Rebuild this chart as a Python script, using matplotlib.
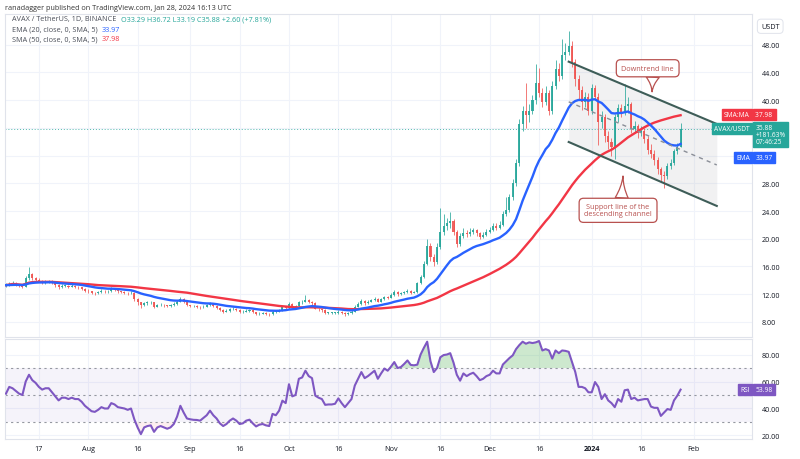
"""AVAX/USDT daily chart with EMA20, SMA50, descending channel and RSI pane."""
import matplotlib

matplotlib.use("Agg")
import matplotlib.pyplot as plt  # noqa: E402
import matplotlib.transforms as mtrans  # noqa: E402
import pandas as pd  # noqa: E402

plt.rcParams["font.family"] = ["Open Sans", "DejaVu Sans"]

START = "2023-07-07"
FIRST_OPEN = 13.2

closes = [
    13.3, 13.5, 13.6, 13.4, 13.2, 13.1, 14.3, 14.9, 14.3, 14.1,
    13.9, 13.7, 13.8, 13.9, 13.6, 13.3, 13.0, 13.2, 13.2, 13.1,
    13.2, 13.1, 13.0, 12.8, 12.5, 12.4, 12.2, 12.1, 12.3, 12.5,
    12.4, 12.4, 12.8, 12.6, 12.4, 12.3, 12.2, 12.1, 12.2, 11.3,
    10.8, 10.4, 10.7, 10.8, 10.8, 10.2, 10.4, 10.5, 10.4, 10.3,
    10.4, 10.6, 10.9, 11.3, 10.9, 10.4, 10.3, 10.3, 10.2, 10.1,
    10.2, 10.4, 10.6, 10.3, 10.0, 9.7, 9.5, 9.6, 9.8, 9.9,
    9.7, 9.4, 9.5, 9.6, 9.7, 9.4, 9.1, 9.2, 9.3, 9.2,
    9.1, 9.5, 9.5, 9.7, 10.1, 10.0, 10.6, 10.2, 10.3, 10.8,
    10.9, 11.2, 10.9, 10.7, 9.9, 9.8, 9.7, 9.3, 9.3, 9.3,
    9.3, 9.5, 9.3, 9.1, 9.3, 9.5, 10.2, 10.6, 11.0, 10.7,
    10.9, 11.1, 11.3, 10.9, 11.3, 11.6, 11.5, 11.9, 12.3, 12.0,
    12.1, 12.3, 12.5, 12.2, 12.3, 13.6, 14.5, 16.4, 19.0, 17.4,
    16.6, 18.8, 21.0, 21.8, 22.2, 22.5, 21.0, 19.3, 20.4, 20.9,
    20.7, 21.0, 21.2, 20.8, 20.3, 20.6, 21.0, 21.3, 21.8, 21.6,
    22.0, 23.6, 24.2, 26.0, 28.0, 31.0, 36.5, 38.5, 37.8, 38.5,
    40.0, 42.5, 41.0, 39.8, 41.0, 38.5, 42.0, 44.5, 43.5, 46.5,
    47.0, 47.8, 45.5, 43.0, 41.5, 39.8, 40.5, 38.5, 41.8, 40.5,
    36.8, 37.6, 34.8, 34.0, 33.2, 37.5, 38.8, 38.2, 39.2, 39.4,
    35.8, 36.2, 35.3, 35.6, 34.4, 32.8, 32.2, 31.4, 30.0, 29.2,
    29.0, 30.5, 31.0, 32.6, 33.29, 35.88,
]
highs = [
    13.6, 13.7, 13.9, 13.7, 13.5, 13.4, 14.6, 15.9, 15.1, 14.5,
    14.3, 14.1, 14.0, 14.1, 14.0, 13.7, 13.4, 13.4, 13.4, 13.3,
    13.4, 13.3, 13.2, 13.1, 12.9, 12.7, 12.5, 12.3, 12.5, 12.7,
    12.6, 12.6, 13.0, 12.9, 12.7, 12.5, 12.4, 12.3, 12.4, 12.3,
    11.4, 10.9, 10.9, 11.0, 11.0, 10.9, 10.6, 10.7, 10.6, 10.5,
    10.6, 10.8, 11.1, 11.6, 11.4, 11.0, 10.5, 10.5, 10.4, 10.3,
    10.4, 10.6, 10.8, 10.7, 10.4, 10.1, 9.8, 9.8, 10.0, 10.1,
    10.0, 9.8, 9.7, 9.8, 9.9, 9.8, 9.5, 9.4, 9.5, 9.4,
    9.3, 9.7, 9.7, 9.9, 10.3, 10.3, 10.9, 10.7, 10.5, 11.0,
    11.2, 11.9, 11.3, 11.0, 10.8, 10.0, 9.9, 9.8, 9.5, 9.5,
    9.5, 9.7, 9.6, 9.4, 9.5, 9.7, 10.4, 10.8, 11.3, 11.1,
    11.1, 11.3, 11.6, 11.4, 11.5, 11.8, 11.8, 12.1, 12.6, 12.4,
    12.3, 12.5, 12.7, 12.6, 12.5, 13.8, 14.8, 16.8, 20.0, 19.4,
    17.8, 19.4, 24.5, 23.5, 23.0, 23.8, 22.8, 21.3, 20.8, 21.6,
    21.3, 21.5, 21.6, 21.4, 21.0, 21.0, 21.4, 21.7, 22.2, 22.2,
    22.5, 24.0, 26.0, 26.5, 28.6, 31.5, 37.3, 39.2, 42.5, 39.5,
    40.8, 45.2, 44.6, 41.8, 42.0, 41.5, 42.8, 45.8, 45.3, 48.8,
    48.2, 50.0, 48.5, 46.0, 43.6, 42.0, 41.2, 41.0, 42.3, 42.2,
    41.0, 38.4, 38.0, 35.5, 34.6, 38.0, 39.5, 39.4, 42.3, 40.5,
    39.8, 37.0, 36.6, 36.2, 36.0, 34.8, 33.6, 32.8, 31.8, 30.4,
    29.8, 30.9, 31.5, 33.0, 33.8, 36.72,
]
lows = [
    13.0, 13.2, 13.4, 13.2, 13.0, 12.9, 13.0, 14.1, 14.0, 13.9,
    13.7, 13.5, 13.5, 13.6, 13.4, 13.1, 12.8, 12.9, 13.0, 12.9,
    13.0, 12.9, 12.8, 12.6, 12.3, 12.2, 12.0, 11.9, 12.0, 12.2,
    12.2, 12.2, 12.3, 12.4, 12.2, 12.1, 12.0, 11.9, 12.0, 11.0,
    10.4, 10.0, 10.3, 10.5, 10.6, 10.0, 10.1, 10.3, 10.2, 10.1,
    10.2, 10.3, 10.5, 10.8, 10.7, 10.3, 10.1, 10.1, 10.0, 9.9,
    10.0, 10.1, 10.3, 10.2, 9.9, 9.6, 9.3, 9.4, 9.5, 9.7,
    9.6, 9.3, 9.3, 9.4, 9.5, 9.3, 9.0, 9.0, 9.1, 9.0,
    8.9, 9.0, 9.3, 9.4, 9.6, 9.8, 9.9, 10.0, 10.1, 10.2,
    10.6, 10.8, 10.7, 10.5, 9.8, 9.6, 9.5, 9.2, 9.1, 9.1,
    9.1, 9.2, 9.1, 8.9, 9.0, 9.2, 9.4, 10.1, 10.5, 10.5,
    10.6, 10.8, 11.0, 10.8, 10.8, 11.2, 11.3, 11.4, 11.8, 11.8,
    11.9, 12.0, 12.2, 12.0, 12.1, 12.2, 13.4, 14.3, 16.2, 16.8,
    16.0, 16.4, 18.5, 20.5, 21.2, 21.6, 20.5, 18.8, 19.0, 20.1,
    20.2, 20.4, 20.7, 20.4, 19.9, 20.1, 20.4, 20.8, 21.1, 21.2,
    21.4, 21.8, 23.3, 23.9, 25.6, 27.6, 30.5, 35.6, 36.0, 36.8,
    38.0, 39.5, 40.5, 39.0, 39.3, 37.8, 38.0, 41.6, 42.8, 43.0,
    45.8, 46.5, 44.8, 42.0, 40.0, 38.6, 39.0, 37.8, 38.0, 40.0,
    33.5, 36.0, 34.0, 33.0, 32.0, 31.5, 36.8, 37.6, 37.8, 38.2,
    35.2, 35.2, 34.6, 34.8, 33.8, 32.2, 31.6, 30.6, 29.4, 28.2,
    27.3, 28.6, 30.0, 30.6, 32.2, 33.19,
]
rsi = [
    51, 56, 55, 53, 51, 50, 60, 65, 61, 59,
    56, 54, 55, 55, 52, 49, 46, 48, 48, 47,
    48, 47, 47, 45, 42, 40, 38, 37.5, 39, 41,
    40, 40, 44, 43, 41, 40.5, 40, 39, 40, 32,
    26, 21, 26, 27, 27.5, 22.7, 26, 27, 26, 25,
    26, 28.5, 34, 42, 37, 32.6, 32, 31.6, 31.5, 31,
    33, 35, 38.4, 35, 32.6, 29, 27, 28.5, 31, 32.6,
    31, 28.5, 29, 31, 31.7, 29, 26.7, 28, 28.5, 27.5,
    27, 36, 35, 38.4, 45.8, 44, 58, 49, 50, 62,
    63, 68, 64, 62.5, 49.5, 48, 47, 42.7, 43, 43,
    43.5, 47.5, 44, 41, 44, 47, 57, 62, 67, 62.5,
    64, 66, 68, 62, 66, 69.6, 68, 71, 74.4, 70,
    70.7, 73, 75.6, 72.3, 72, 72.5, 80, 85, 89.5, 75,
    67, 70, 78, 79.6, 80, 81, 74, 65, 60.6, 66,
    64, 65.5, 66.5, 64, 61, 62, 64, 65, 68, 66,
    66, 72.6, 75, 77.4, 79.4, 84, 87, 89.5, 88, 89,
    88.5, 89, 90, 83, 84, 83, 77, 83, 81, 83,
    82.7, 82, 74.4, 67, 56, 56, 55, 52, 52, 59.6,
    56, 47, 50.6, 46, 44, 41, 47, 45, 53.5, 54,
    47, 48, 46, 46.5, 47, 47, 41.4, 40.5, 40.5, 34.5,
    37, 39.6, 39, 46, 49.5, 53.98,
]

tick_dates = ["2023-07-17", "2023-08-01", "2023-08-16", "2023-09-01", "2023-09-16",
              "2023-10-01", "2023-10-16", "2023-11-01", "2023-11-16", "2023-12-01",
              "2023-12-16", "2024-01-01", "2024-01-16", "2024-02-01"]
tick_labels = ["17", "Aug", "16", "Sep", "16", "Oct", "16", "Nov", "16", "Dec",
               "16", "2024", "16", "Feb"]
price_ticks = [8, 12, 16, 20, 24, 28, 32, 36, 40, 44, 48]
hidden_price_labels = [32, 36]  # covered by the price tags in the original
rsi_ticks = [20, 40, 60, 80]

# hand-drawn parallel channel: (date, price) at both ends
channel_dates = ["2023-12-25", "2024-02-08"]
channel_upper = [45.55, 36.56]
channel_lower = [33.96, 24.73]

GREEN, RED = "#26a69a", "#ef5350"
EMA_C, SMA_C, RSI_C = "#2962ff", "#f23645", "#7e57c2"
GRID = "#f0f3fa"
TXT = "#131722"
CALLOUT = "#b8514f"
FS = 5.2

dates = pd.date_range(START, periods=len(closes), freq="D")
c = pd.Series(closes, index=dates)
o = c.shift(1).fillna(FIRST_OPEN)
ema = c.ewm(span=20, adjust=False).mean()
sma = c.rolling(50, min_periods=1).mean()

fig = plt.figure(figsize=(8, 4.6), dpi=100)
ax = fig.add_axes([0.00625, 0.2652, 0.93375, 0.7022])
ax2 = fig.add_axes([0.00625, 0.04348, 0.93375, 0.2174], sharex=ax)

# candles
up = c >= o
body_lo = pd.concat([o, c], axis=1).min(axis=1)
body_hi = pd.concat([o, c], axis=1).max(axis=1)
hi_s = pd.Series(highs, index=dates)
lo_s = pd.Series(lows, index=dates)
for mask, col in ((up, GREEN), (~up, RED)):
    d = dates[mask.values]
    ax.vlines(d, lo_s[mask], hi_s[mask], color=col, lw=0.6, alpha=0.9, zorder=3)
    ax.bar(d, (body_hi[mask] - body_lo[mask]).clip(lower=0.06), bottom=body_lo[mask],
           width=0.62, color=col, alpha=0.9, lw=0, zorder=3)

ax.plot(dates, sma, color=SMA_C, lw=1.7, zorder=4)
ax.plot(dates, ema, color=EMA_C, lw=1.7, zorder=4)
ax.axhline(closes[-1], color=GREEN, lw=0.7, ls=(0, (1, 2)), alpha=0.8, zorder=2)

# channel
cd = pd.to_datetime(channel_dates)
mid = [(u + l) / 2 for u, l in zip(channel_upper, channel_lower)]
ax.fill_between(cd, channel_lower, channel_upper, color="#9598a1", alpha=0.13, lw=0, zorder=1)
ax.plot(cd, channel_upper, color="#3e5d58", lw=1.5, zorder=5)
ax.plot(cd, channel_lower, color="#3e5d58", lw=1.5, zorder=5)
ax.plot(cd, mid, color="#8a8e97", lw=1.0, ls=(0, (3, 3)), zorder=5)

# callouts
box = dict(boxstyle="round,pad=0.7,rounding_size=0.6", fc="white", ec=CALLOUT, lw=0.9)
wedge = dict(arrowstyle="wedge,tail_width=1.8,shrink_factor=0.3", fc="white", ec=CALLOUT,
             lw=0.9, shrinkA=0, shrinkB=0)
ax.annotate("Downtrend line", xy=(pd.Timestamp("2024-01-19 08:00"), 41.2),
            xytext=(pd.Timestamp("2024-01-18"), 44.6), ha="center", va="center",
            fontsize=FS, color=CALLOUT, bbox=box, zorder=8,
            arrowprops=dict(wedge, relpos=(0.6, 0.0)))
ax.annotate("Support line of the\ndescending channel",
            xy=(pd.Timestamp("2024-01-10 12:00"), 29.05),
            xytext=(pd.Timestamp("2024-01-09"), 24.1), ha="center", va="center",
            fontsize=FS, color=CALLOUT, bbox=box, zorder=8, linespacing=1.0,
            arrowprops=dict(wedge, relpos=(0.55, 1.0)))

# RSI pane
ax2.axhspan(30, 70, color=RSI_C, alpha=0.07, lw=0)
for lvl in (30, 50, 70):
    ax2.axhline(lvl, color="#9598a1", lw=0.8, ls=(0, (2, 3)))
r = pd.Series(rsi, index=dates)
ax2.fill_between(dates, 70, r, where=r > 70, interpolate=True, color="#4caf50", alpha=0.28, lw=0)
ax2.fill_between(dates, 30, r, where=r < 30, interpolate=True, color="#f23645", alpha=0.08, lw=0)
ax2.plot(dates, r, color=RSI_C, lw=1.5, zorder=4)

# axes styling
x0 = pd.Timestamp(START) - pd.Timedelta(hours=7)
x1 = pd.Timestamp(START) + pd.Timedelta(days=226.7)
ax.set_xlim(x0, x1)
ax.set_ylim(5.82, 52.43)
ax2.set_ylim(17.4, 91.5)
for a in (ax, ax2):
    a.yaxis.tick_right()
    a.tick_params(axis="both", length=0, labelsize=FS, labelcolor=TXT, pad=7)
    a.grid(True, color=GRID, lw=0.8)
    a.set_axisbelow(True)
    for s in a.spines.values():
        s.set_color("#e0e3eb")
        s.set_linewidth(0.8)
ax.set_yticks(price_ticks,
              ["" if p in hidden_price_labels else f"{p:.2f}" for p in price_ticks])
ax2.set_yticks(rsi_ticks, [f"{p:.2f}" for p in rsi_ticks])
ax2.set_xticks(pd.to_datetime(tick_dates), tick_labels)
ax2.tick_params(axis="x", pad=4)
for lab in ax2.get_xticklabels():
    if lab.get_text() == "2024":
        lab.set_fontweight("bold")
plt.setp(ax.get_xticklabels(), visible=False)


# price-scale tags
def tag(a, y, text, col, side, dy=0, va="center", size=FS - 0.4):
    tr = mtrans.blended_transform_factory(a.transAxes, a.transData)
    ha = "left" if side == "right" else "right"
    a.annotate(text, xy=(1.0, y), xycoords=tr, xytext=(2.5 if side == "right" else -1.5, dy),
               textcoords="offset points", ha=ha, va=va, fontsize=size, color="white",
               linespacing=1.0, annotation_clip=False, zorder=10,
               bbox=dict(boxstyle="square,pad=0.3", fc=col, ec=col))


tag(ax, 37.98, "SMA:MA", SMA_C, "left")
tag(ax, 37.98, "37.98 ", SMA_C, "right")
tag(ax, 35.88, "AVAX/USDT", GREEN, "left")
tag(ax, 35.88, "35.88\n+181.63%\n07:46:25", GREEN, "right", dy=3.5, va="top")
tag(ax, 33.97, "EMA", EMA_C, "left", dy=-11.5)
tag(ax, 33.97, "33.97", EMA_C, "right", dy=-11.5)
tag(ax2, rsi[-1], "RSI", RSI_C, "left")
tag(ax2, rsi[-1], "53.98", RSI_C, "right")
ax.text(1.012, 0.962, "USDT", transform=ax.transAxes, fontsize=FS, color=TXT, va="center",
        bbox=dict(boxstyle="round,pad=0.5", fc="white", ec="#e0e3eb", lw=0.7), zorder=10)


# legend lines
def chain(y, parts):
    prev = ax.annotate(parts[0][0], xy=(0.015, y), xycoords="figure fraction", va="center",
                       fontsize=FS, color=parts[0][1], annotation_clip=False)
    for s, col in parts[1:]:
        prev = ax.annotate(s, xy=(1, 0.5), xycoords=prev, xytext=(3, 0),
                           textcoords="offset points", va="center", fontsize=FS,
                           color=col, annotation_clip=False)


fig.text(0.006, 1 - 8 / 460, "ranadagger published on TradingView.com, Jan 28, 2024 16:13 UTC",
         fontsize=FS, color="#333333", va="center")
chain(1 - 20 / 460, [("AVAX / TetherUS, 1D, BINANCE", "#4a4e58"),
                     ("O33.29 H36.72 L33.19 C35.88 +2.60 (+7.81%)", GREEN)])
chain(1 - 30 / 460, [("EMA (20, close, 0, SMA, 5)", "#4a4e58"), ("33.97", EMA_C)])
chain(1 - 40 / 460, [("SMA (50, close, 0, SMA, 5)", "#4a4e58"), ("37.98", SMA_C)])
chain(1 - 346 / 460, [("RSI (14, close, SMA, 14, 2)", "#4a4e58"), ("53.98", RSI_C),
                      ("∅ ∅ ∅ ∅", "#4a4e58")])

fig.savefig("out.png", dpi=100, facecolor="white")
